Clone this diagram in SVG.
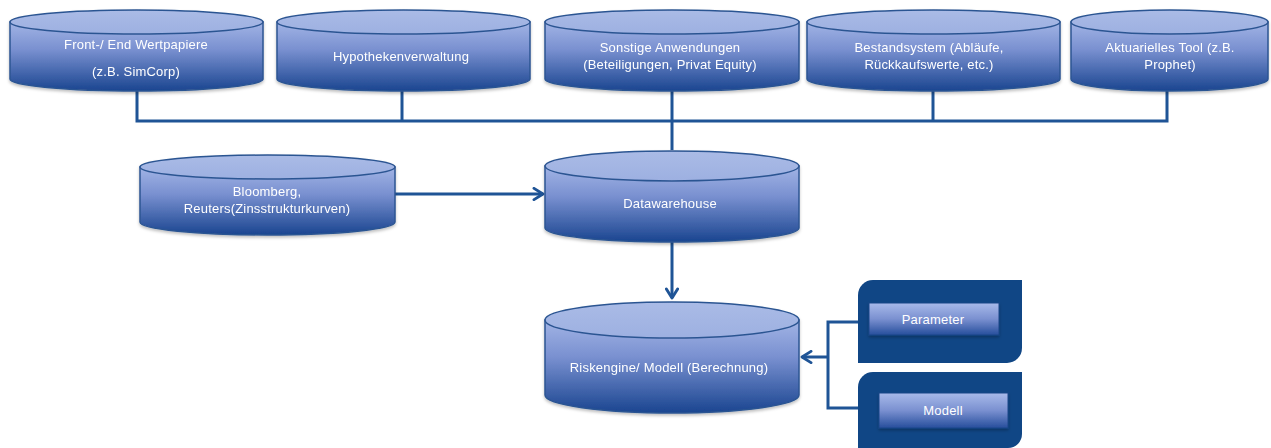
<svg xmlns="http://www.w3.org/2000/svg" width="1271" height="448" viewBox="0 0 1271 448">
<defs>
<linearGradient id="body" x1="0" y1="0" x2="0" y2="1">
<stop offset="0" stop-color="#a2b4e5"/>
<stop offset="0.4" stop-color="#7990d0"/>
<stop offset="1" stop-color="#1a4590"/>
</linearGradient>
<linearGradient id="topg" x1="0" y1="0" x2="0" y2="1">
<stop offset="0" stop-color="#aabbe6"/>
<stop offset="1" stop-color="#9db0e1"/>
</linearGradient>
<linearGradient id="btn" x1="0" y1="0" x2="0" y2="1">
<stop offset="0" stop-color="#a8baea"/>
<stop offset="0.5" stop-color="#7a90d0"/>
<stop offset="1" stop-color="#264e9c"/>
</linearGradient>
<filter id="sh" x="-5%" y="-10%" width="110%" height="130%">
<feDropShadow dx="0" dy="2" stdDeviation="1.5" flood-color="#000" flood-opacity="0.25"/>
</filter>
<marker id="arr" viewBox="0 0 12 12" refX="10" refY="6" markerWidth="4.5" markerHeight="4.5" orient="auto" markerUnits="strokeWidth">
<path d="M2,1 L10,6 L2,11" fill="none" stroke="#1f5496" stroke-width="2.6" stroke-linecap="round" stroke-linejoin="round"/>
</marker>
</defs>
<style>
.cb{fill:url(#body);stroke:#2c5592;stroke-width:1.5}
.ct{fill:url(#topg);stroke:#2c5592;stroke-width:1.5}
.t{font-family:"Liberation Sans",Arial,sans-serif;font-size:13px;fill:#ffffff;text-anchor:middle;letter-spacing:0.2px}
.c{fill:none;stroke:#1f5496;stroke-width:3}
.panel{fill:#104685}
.btn{fill:url(#btn);stroke:#1d4688;stroke-width:1}
</style>

<g id="connectors">
<path class="c" d="M137,91 V121 H1167 V91"/>
<path class="c" d="M402,91 V121"/>
<path class="c" d="M933,91 V121"/>
<path class="c" d="M672,91 V150"/>
<path class="c" d="M395,194 H543" marker-end="url(#arr)"/>
<path class="c" d="M672,242 V298" marker-end="url(#arr)"/>
<path class="c" d="M858,322 H828 V408 H858"/>
<path class="c" d="M828,357 H802" marker-end="url(#arr)"/>
</g>

<g id="front" filter="url(#sh)">
<path class="cb" d="M10,22 V79 A126.5,12 0 0 0 263,79 V22 Z"/>
<ellipse class="ct" cx="136.5" cy="22" rx="126.5" ry="12"/>
<text class="t" x="136" y="49">Front-/ End Wertpapiere</text>
<text class="t" x="136" y="76">(z.B. SimCorp)</text>
</g>

<g id="hypo" filter="url(#sh)">
<path class="cb" d="M277,22 V79 A126.5,12 0 0 0 530,79 V22 Z"/>
<ellipse class="ct" cx="403.5" cy="22" rx="126.5" ry="12"/>
<text class="t" x="401" y="61">Hypothekenverwaltung</text>
</g>

<g id="sonstige" filter="url(#sh)">
<path class="cb" d="M545,22 V79 A127,12 0 0 0 799,79 V22 Z"/>
<ellipse class="ct" cx="672" cy="22" rx="127" ry="12"/>
<text class="t" x="670" y="52">Sonstige Anwendungen</text>
<text class="t" x="670" y="69">(Beteiligungen, Privat Equity)</text>
</g>

<g id="bestand" filter="url(#sh)">
<path class="cb" d="M807,22 V79 A126.5,12 0 0 0 1060,79 V22 Z"/>
<ellipse class="ct" cx="933.5" cy="22" rx="126.5" ry="12"/>
<text class="t" x="929" y="52">Bestandsystem  (Abläufe,</text>
<text class="t" x="929" y="69">Rückkaufswerte,  etc.)</text>
</g>

<g id="aktuar" filter="url(#sh)">
<path class="cb" d="M1071,22 V79 A98.5,12 0 0 0 1268,79 V22 Z"/>
<ellipse class="ct" cx="1169.5" cy="22" rx="98.5" ry="12"/>
<text class="t" x="1170" y="52">Aktuarielles Tool (z.B.</text>
<text class="t" x="1170" y="69">Prophet)</text>
</g>

<g id="bloomberg" filter="url(#sh)">
<path class="cb" d="M140,167 V222 A127.5,13 0 0 0 395,222 V167 Z"/>
<ellipse class="ct" cx="267.5" cy="167" rx="127.5" ry="12"/>
<text class="t" x="267" y="196">Bloomberg,</text>
<text class="t" x="267" y="213">Reuters(Zinsstrukturkurven)</text>
</g>

<g id="dwh" filter="url(#sh)">
<path class="cb" d="M545,166 V228 A127,14 0 0 0 799,228 V166 Z"/>
<ellipse class="ct" cx="672" cy="166" rx="127" ry="15"/>
<text class="t" x="670" y="208">Datawarehouse</text>
</g>

<g id="riskengine" filter="url(#sh)">
<path class="cb" d="M545,320 V395 A127,18 0 0 0 799,395 V320 Z"/>
<ellipse class="ct" cx="672" cy="320" rx="127" ry="18"/>
<text class="t" x="669" y="372">Riskengine/ Modell  (Berechnung)</text>
</g>

<g id="parameter">
<path class="panel" d="M873,280 H1022 V348 A15,15 0 0 1 1007,363 H858 V295 A15,15 0 0 1 873,280 Z"/>
<rect class="btn" x="869" y="303" width="130" height="32" filter="url(#sh)"/>
<text class="t" x="933" y="324">Parameter</text>
</g>

<g id="modell">
<path class="panel" d="M873,372 H1022 V434 A14,14 0 0 1 1008,448 H858 V387 A15,15 0 0 1 873,372 Z"/>
<rect class="btn" x="879" y="393" width="129" height="35" filter="url(#sh)"/>
<text class="t" x="943" y="415">Modell</text>
</g>
</svg>
